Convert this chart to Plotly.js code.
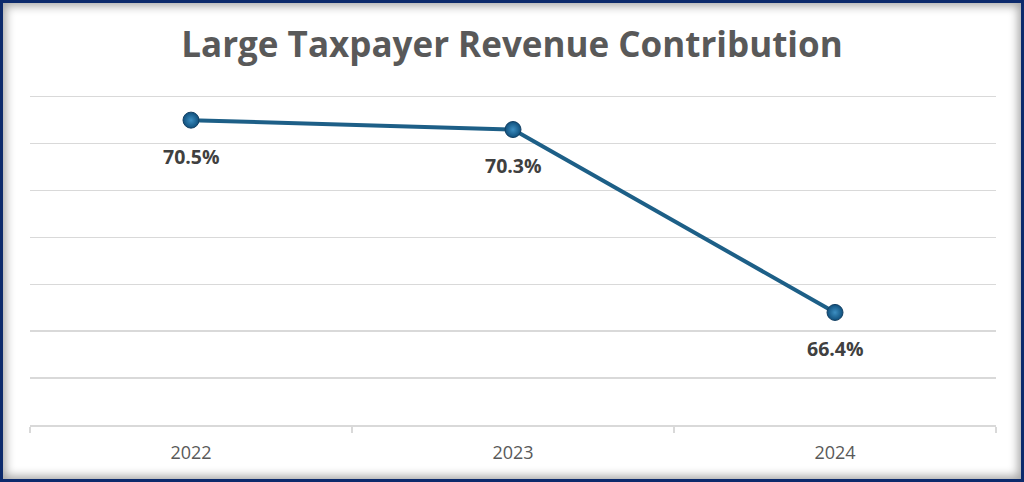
<!DOCTYPE html>
<html>
<head>
<meta charset="utf-8">
<script src="https://cdn.plot.ly/plotly-3.0.1.min.js"></script>
<style>
  html, body { margin: 0; padding: 0; background: #ffffff; }
  #frame {
    width: 1024px; height: 482px; box-sizing: border-box;
    border: 3px solid #0c2a6c;
    box-shadow: inset 0 0 10px 3px rgba(0,0,0,0.35);
    position: relative; overflow: hidden;
  }
  #chart { width: 1018px; height: 476px; }
</style>
</head>
<body>
<div id="frame"><div id="chart"></div></div>
<script>
const years = ['2022', '2023', '2024'];
const shares = [70.5, 70.3, 66.4];
const shareLabels = ['70.5%', '70.3%', '66.4%'];

const lineTrace = {
  x: years,
  y: shares,
  type: 'scatter',
  mode: 'lines+markers',
  line: { color: '#1d5f87', width: 4 },
  marker: {
    size: 16,
    color: '#0f4f7c',
    gradient: { type: 'radial', color: '#3d8fc2' },
    line: { color: '#123f63', width: 1 }
  },
  hoverinfo: 'skip',
  showlegend: false
};

// value labels sit under each point (category axis -> use the index)
const labelAnnos = years.map((yr, i) => ({
  x: i, y: shares[i], xref: 'x', yref: 'y',
  text: '<b>' + shareLabels[i] + '</b>',
  showarrow: false, yshift: -36,
  font: { family: 'Open Sans, Liberation Sans, sans-serif', size: 19.5, color: '#404040' }
}));

const layout = {
  width: 1018,
  height: 476,
  margin: { t: 89, l: 27, r: 25, b: 54 },
  paper_bgcolor: 'rgba(0,0,0,0)',
  plot_bgcolor: 'rgba(0,0,0,0)',
  title: {
    text: '<b>Large Taxpayer Revenue Contribution</b>',
    x: 0.5, xanchor: 'center',
    y: 0.912, yanchor: 'middle',
    font: { family: 'Open Sans, Liberation Sans, sans-serif', size: 35, color: '#595959' }
  },
  xaxis: {
    type: 'category',
    range: [-0.5, 2.5],
    showgrid: false,
    zeroline: false,
    showline: true,
    linecolor: '#d9d9d9',
    linewidth: 1.5,
    ticks: 'outside',
    tickson: 'boundaries',
    ticklen: 6,
    tickcolor: '#d9d9d9',
    tickwidth: 1.5,
    tickfont: { family: 'Open Sans, Liberation Sans, sans-serif', size: 18, color: '#595959' },
    ticklabelstandoff: 11
  },
  yaxis: {
    range: [64, 71.1],
    dtick: 1,
    tick0: 64,
    showgrid: true,
    gridcolor: '#d9d9d9',
    gridwidth: 1.5,
    zeroline: false,
    showticklabels: false,
    ticks: ''
  },
  annotations: labelAnnos
};

Plotly.newPlot('chart', [lineTrace], layout, { displayModeBar: false, staticPlot: true });
</script>
</body>
</html>
